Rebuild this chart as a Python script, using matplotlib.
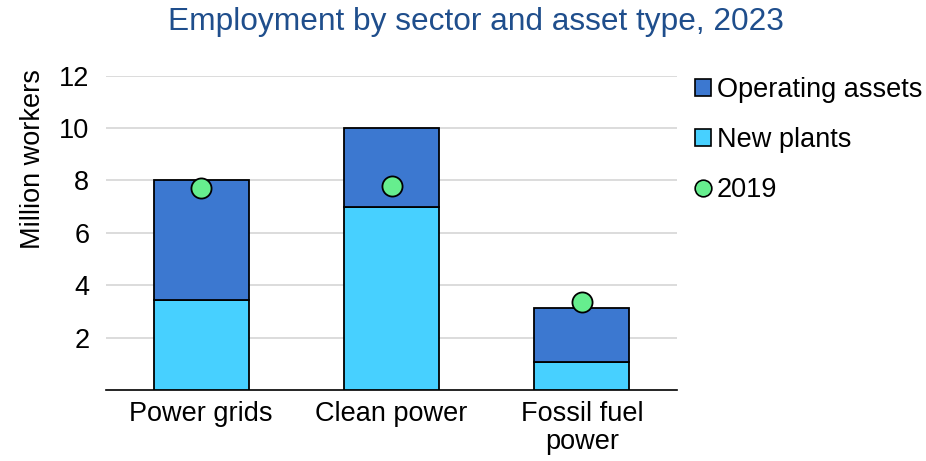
import numpy as np
import matplotlib.pyplot as plt
from matplotlib.patches import Patch
from matplotlib.lines import Line2D

plt.rcParams['font.family'] = ['Liberation Sans', 'DejaVu Sans']

categories = ["Power grids", "Clean power", "Fossil fuel\npower"]
new_plants = [3.45, 6.97, 1.05]
operating = [4.57, 3.03, 2.07]
y2019 = [7.7, 7.77, 3.35]

c_oper = "#3C78D0"
c_new = "#47D0FF"
c_dot = "#66EE8E"

fig = plt.figure(figsize=(9.26, 4.61), dpi=100)
ax = fig.add_axes([0.1145, 0.154, 0.6166, 0.682])

x = np.arange(len(categories))
ax.bar(x, new_plants, width=0.5, color=c_new, edgecolor="black", linewidth=1.3, zorder=3)
ax.bar(x, operating, width=0.5, bottom=new_plants, color=c_oper, edgecolor="black", linewidth=1.3, zorder=3)
ax.scatter(x, y2019, s=210, color=c_dot, edgecolor="black", linewidth=1.3, zorder=4)

ax.set_xlim(-0.5, 2.5)
ax.set_ylim(0, 12)
ax.set_yticks([2, 4, 6, 8, 10, 12])
ax.set_xticks(x)
ax.set_xticklabels(categories, fontsize=19.5, linespacing=1.1)
ax.tick_params(axis="y", labelsize=19.5, length=0, pad=12)
ax.tick_params(axis="x", length=0, pad=8)
ax.yaxis.grid(True, color="#D9D9D9", linewidth=1.3, zorder=0)
ax.set_axisbelow(True)
for s in ["left", "right", "top"]:
    ax.spines[s].set_visible(False)
ax.spines["bottom"].set_color("black")
ax.spines["bottom"].set_linewidth(1.2)
ax.set_ylabel("Million workers", fontsize=19.5)
ax.yaxis.set_label_coords(-0.105, 0.735)

fig.suptitle("Employment by sector and asset type, 2023", x=0.514, y=0.985,
             fontsize=22.8, color="#1F4E8C")

handles = [
    Patch(facecolor=c_oper, edgecolor="black", linewidth=1.2, label="Operating assets"),
    Patch(facecolor=c_new, edgecolor="black", linewidth=1.2, label="New plants"),
    Line2D([], [], marker="o", linestyle="none", markersize=12, markerfacecolor=c_dot,
           markeredgecolor="black", markeredgewidth=1.2, label="2019"),
]
fig.legend(handles=handles, loc="upper left", bbox_to_anchor=(0.739, 0.856),
           frameon=False, fontsize=19.5, handlelength=0.6, handleheight=0.6,
           handletextpad=0.2, labelspacing=0.88, borderaxespad=0)

fig.savefig("out.png", dpi=100)
